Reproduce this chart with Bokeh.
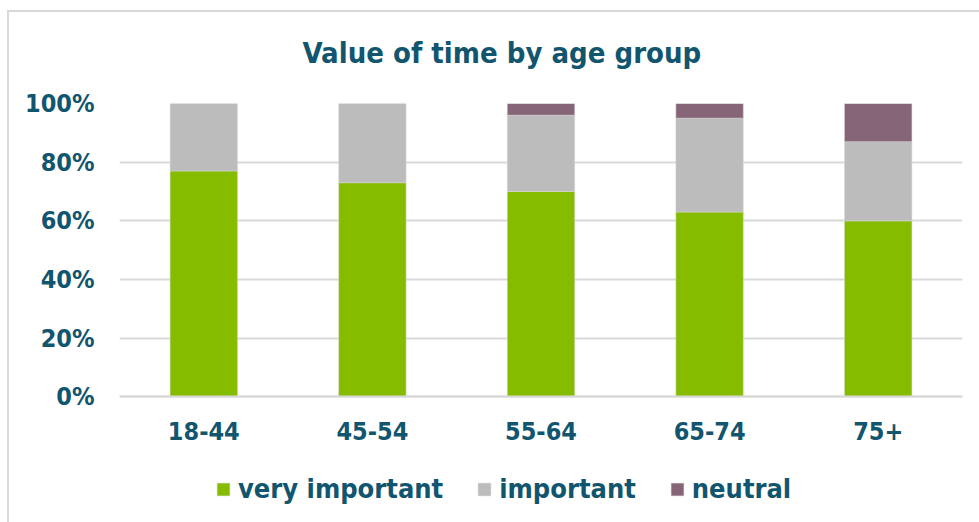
from bokeh.plotting import figure
from bokeh.models import ColumnDataSource, Legend, LegendItem, NumeralTickFormatter, FixedTicker, Range1d
from bokeh.embed import file_html
from bokeh.resources import INLINE

groups = ["18-44", "45-54", "55-64", "65-74", "75+"]
very_important = [77, 73, 70, 63, 60]
important = [23, 27, 26, 32, 27]
neutral = [0, 0, 4, 5, 13]
series = ["very important", "important", "neutral"]
colors = ["#86BC00", "#BBBCBB", "#876579"]
y_ticks = [0, 0.2, 0.4, 0.6, 0.8, 1.0]

TEXT = "#12556E"
FONT = "DejaVu Sans Condensed, DejaVu Sans"

src = ColumnDataSource(dict(
    group=groups,
    very_important=[v / 100 for v in very_important],
    important=[v / 100 for v in important],
    neutral=[v / 100 for v in neutral],
))

# frame spans down to the legend; the value axis 0..1 occupies the upper 294 px
FRAME_TOP, ZERO_Y, FRAME_BOTTOM = 102, 396, 517
y_start = -(FRAME_BOTTOM - ZERO_Y) / (ZERO_Y - FRAME_TOP)

p = figure(x_range=groups, y_range=Range1d(y_start, 1), width=979, height=522,
           output_backend="svg", toolbar_location=None,
           min_border_left=119, min_border_right=17, min_border_top=FRAME_TOP,
           min_border_bottom=522 - FRAME_BOTTOM)
p.outline_line_color = None
p.border_fill_alpha = 0
p.background_fill_alpha = 0
p.styles = {
    "background-color": "white",
    "background-image": "linear-gradient(#D9D9D9, #D9D9D9), linear-gradient(#D9D9D9, #D9D9D9)",
    "background-size": "980px 2px, 2px 520px",
    "background-position": "7px 10px, 7px 10px",
    "background-repeat": "no-repeat",
}

rs = p.vbar_stack(["very_important", "important", "neutral"], x="group", width=0.4,
                  color=colors, line_color="#D9D9D9", line_width=0.5, source=src)

p.title.text = "Value of time by age group"
p.title.text_font = FONT
p.title.text_font_size = "29px"
p.title.text_font_style = "bold"
p.title.text_color = TEXT
p.title.align = "left"
p.title.offset = 183
p.title.standoff = 67

p.yaxis.ticker = FixedTicker(ticks=y_ticks)
p.yaxis.formatter = NumeralTickFormatter(format="0%")
p.yaxis.axis_line_color = None
p.yaxis.major_tick_line_color = None
p.yaxis.minor_tick_line_color = None
p.yaxis.major_label_text_font = FONT
p.yaxis.major_label_text_font_size = "25px"
p.yaxis.major_label_text_font_style = "bold"
p.yaxis.major_label_text_color = TEXT
p.yaxis.major_label_standoff = 19

p.xaxis.fixed_location = 0
p.xaxis.axis_line_color = "#D9D9D9"
p.xaxis.axis_line_width = 2
p.xaxis.major_tick_line_color = None
p.xaxis.minor_tick_line_color = None
p.xaxis.major_label_text_font = FONT
p.xaxis.major_label_text_font_size = "25px"
p.xaxis.major_label_text_font_style = "bold"
p.xaxis.major_label_text_color = TEXT
p.xaxis.major_label_standoff = 19

p.xgrid.grid_line_color = None
p.ygrid.ticker = FixedTicker(ticks=y_ticks)
p.ygrid.grid_line_color = "#D9D9D9"
p.ygrid.grid_line_width = 2

legend = Legend(items=[LegendItem(label=s, renderers=[r]) for s, r in zip(series, rs)],
                orientation="horizontal", location=(96, 13))
legend.glyph_width = 16
legend.glyph_height = 16
legend.label_standoff = 7
legend.spacing = 33
legend.padding = 0
legend.margin = 0
legend.border_line_color = None
legend.background_fill_alpha = 0
legend.label_text_font = FONT
legend.label_text_font_size = "27px"
legend.label_text_font_style = "bold"
legend.label_text_color = TEXT
p.add_layout(legend, "center")

open("out.html", "w").write(file_html(p, INLINE))
